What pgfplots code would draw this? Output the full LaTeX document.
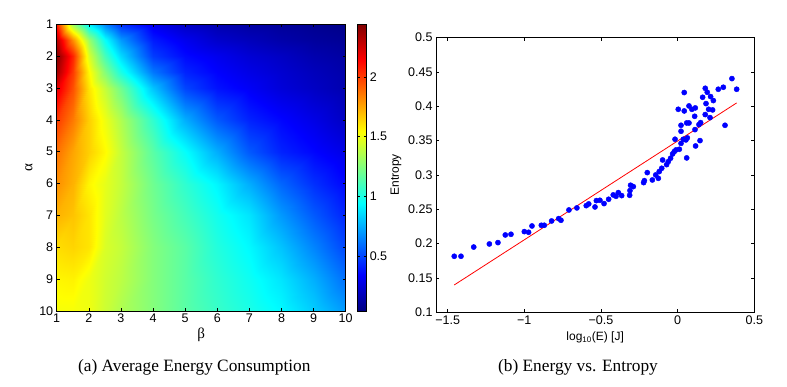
\documentclass[border=0pt]{standalone}
\usepackage{fontspec}
\setmainfont{Liberation Sans}
\newfontfamily\seriffont{Liberation Serif}
\usepackage{pgfplots}
\usepackage{pgfplotstable}
\pgfplotsset{compat=1.18}
\pgfplotsset{/pgf/number format/assume math mode=true}
% heat map: rows alpha, columns beta
\pgfplotstableread{
a b e
1 1 2.05
1 1.5 1.30
1 2 0.90
1 2.5 0.65
1 3 0.45
1 4 0.30
1 5 0.20
1 6 0.15
1 7 0.12
1 8 0.10
1 9 0.08
1 10 0.06

1.5 1 2.30
1.5 1.5 1.80
1.5 2 1.30
1.5 2.5 0.95
1.5 3 0.70
1.5 4 0.40
1.5 5 0.30
1.5 6 0.22
1.5 7 0.18
1.5 8 0.14
1.5 9 0.11
1.5 10 0.09

2 1 2.42
2 1.5 2.05
2 2 1.45
2 2.5 1.10
2 3 0.85
2 4 0.48
2 5 0.36
2 6 0.30
2 7 0.24
2 8 0.20
2 9 0.15
2 10 0.12

2.5 1 2.35
2.5 1.5 2.00
2.5 2 1.55
2.5 2.5 1.25
2.5 3 1.00
2.5 4 0.62
2.5 5 0.42
2.5 6 0.34
2.5 7 0.28
2.5 8 0.23
2.5 9 0.18
2.5 10 0.14

3 1 2.20
3 1.5 1.95
3 2 1.60
3 2.5 1.40
3 3 1.20
3 4 0.80
3 5 0.50
3 6 0.38
3 7 0.32
3 8 0.25
3 9 0.20
3 10 0.15

4 1 2.00
4 1.5 1.85
4 2 1.65
4 2.5 1.50
4 3 1.35
4 4 1.05
4 5 0.75
4 6 0.55
4 7 0.42
4 8 0.35
4 9 0.28
4 10 0.20

5 1 1.87
5 1.5 1.75
5 2 1.65
5 2.5 1.55
5 3 1.40
5 4 1.15
5 5 0.95
5 6 0.75
5 7 0.55
5 8 0.42
5 9 0.35
5 10 0.28

6 1 1.80
6 1.5 1.72
6 2 1.56
6 2.5 1.48
6 3 1.40
6 4 1.20
6 5 1.05
6 6 0.92
6 7 0.75
6 8 0.58
6 9 0.45
6 10 0.35

7 1 1.72
7 1.5 1.68
7 2 1.60
7 2.5 1.47
7 3 1.38
7 4 1.22
7 5 1.10
7 6 0.98
7 7 0.88
7 8 0.70
7 9 0.55
7 10 0.42

8 1 1.62
8 1.5 1.64
8 2 1.60
8 2.5 1.45
8 3 1.40
8 4 1.25
8 5 1.15
8 6 1.02
8 7 0.93
8 8 0.80
8 9 0.65
8 10 0.50

9 1 1.56
9 1.5 1.57
9 2 1.50
9 2.5 1.43
9 3 1.38
9 4 1.25
9 5 1.15
9 6 1.05
9 7 0.97
9 8 0.88
9 9 0.75
9 10 0.60

10 1 1.52
10 1.5 1.52
10 2 1.50
10 2.5 1.42
10 3 1.35
10 4 1.25
10 5 1.15
10 6 1.07
10 7 1.00
10 8 0.93
10 9 0.82
10 10 0.70
}\heat
\pgfplotstableread{
x y
-1.457 0.1816
-1.413 0.1816
-1.330 0.1950
-1.228 0.1995
-1.172 0.2015
-1.124 0.2126
-1.087 0.2136
-1.000 0.2175
-0.972 0.2165
-0.950 0.2257
-0.889 0.2267
-0.870 0.2267
-0.822 0.2330
-0.776 0.2364
-0.761 0.2340
-0.709 0.2490
-0.657 0.2520
-0.596 0.2553
-0.580 0.2578
-0.539 0.2534
-0.530 0.2626
-0.507 0.2631
-0.480 0.2583
-0.450 0.2646
-0.420 0.2709
-0.402 0.2689
-0.387 0.2743
-0.365 0.2699
-0.313 0.2704
-0.311 0.2772
-0.307 0.2850
-0.289 0.2830
-0.222 0.2888
-0.217 0.2917
-0.198 0.3034
-0.165 0.2927
-0.143 0.3000
-0.126 0.2951
-0.120 0.3049
-0.104 0.3097
-0.098 0.3218
-0.072 0.3150
-0.061 0.3194
-0.046 0.3243
-0.033 0.3306
-0.022 0.3340
-0.011 0.3364
0.011 0.3374
-0.017 0.3520
0.022 0.3460
0.037 0.3520
0.054 0.3510
0.063 0.3540
0.059 0.3248
0.022 0.3636
0.022 0.3723
0.059 0.3757
0.074 0.3757
0.004 0.3956
0.043 0.3932
0.043 0.4200
0.074 0.4005
0.093 0.3956
0.115 0.3976
0.111 0.3854
0.113 0.3660
0.117 0.3422
0.139 0.3733
0.150 0.3762
0.146 0.3500
0.163 0.4131
0.180 0.4262
0.185 0.4039
0.180 0.3879
0.193 0.4204
0.202 0.3956
0.211 0.3835
0.215 0.4141
0.228 0.3947
0.233 0.4083
0.265 0.4248
0.298 0.4277
0.309 0.3723
0.354 0.4403
0.385 0.4248
}\scatterdata
\begin{document}
\begin{tikzpicture}
\useasboundingbox (0,0) rectangle (787pt,387pt);
\begin{axis}[
  at={(56.7pt,76pt)}, anchor=south west,
  width=289pt, height=286.7pt, scale only axis,
  xmin=1, xmax=10, ymin=1, ymax=10,
  y dir=reverse,
  xtick={1,2,3,4,5,6,7,8,9,10}, ytick={1,2,3,4,5,6,7,8,9,10},
  tick align=inside, tick pos=both, major tick length=3pt,
  axis line style={line width=0.6pt},
  tick style={black, line width=0.5pt},
  tick label style={font=\fontsize{12.5}{13}\selectfont},
  xticklabel style={yshift=1pt},
  xlabel={\seriffont\fontsize{15}{15}\selectfont β},
  ylabel={\seriffont\fontsize{15}{15}\selectfont α},
  xlabel style={yshift=1pt},
  colormap/jet,
  point meta min=0.04, point meta max=2.44,
  colorbar,
  colorbar style={
    width=8.7pt,
    at={(parent axis.north east)}, anchor=north west, xshift=3.3pt,
    ytick={0.5,1,1.5,2},
    yticklabels={0.5,1,1.5,2},
    tick align=inside, ytick pos=both, yticklabel pos=right,
    major tick length=2.5pt,
    axis line style={line width=0.6pt},
    tick label style={font=\fontsize{12.5}{13}\selectfont},
  },
  axis on top,
]
\addplot[surf, shader=interp, mesh/rows=12, mesh/cols=12, point meta=\thisrow{e}] table[x=b, y=a] {\heat};
\end{axis}

\begin{axis}[
  at={(436pt,74.7pt)}, anchor=south west,
  width=318.3pt, height=274.7pt, scale only axis,
  xmin=-1.576, xmax=0.5, ymin=0.1, ymax=0.5,
  xtick={-1.5,-1,-0.5,0,0.5}, xticklabels={−1.5,−1,−0.5,0,0.5},
  ytick={0.1,0.15,0.2,0.25,0.3,0.35,0.4,0.45,0.5},
  yticklabels={0.1,0.15,0.2,0.25,0.3,0.35,0.4,0.45,0.5},
  tick align=inside, tick pos=both, major tick length=3pt,
  axis line style={line width=0.6pt},
  tick style={black, line width=0.5pt},
  tick label style={font=\fontsize{12.5}{13}\selectfont},
  xlabel={log\textsubscript{10}(E) [J]},
  ylabel={Entropy},
  label style={font=\fontsize{12}{13}\selectfont},
]
\addplot[only marks, mark=*, mark size=2.6pt, color=blue, mark options={fill=blue, draw=blue}] table[x=x, y=y] {\scatterdata};
\addplot[red, line width=0.8pt] coordinates {(-1.457,0.1398) (0.385,0.4049)};
\end{axis}

\node[font=\seriffont\fontsize{17.3}{19}\selectfont, anchor=base] at (194.3pt,15.3pt) {(a) Average Energy Consumption};
\node[font=\seriffont\fontsize{17.3}{19}\selectfont, anchor=base] at (578pt,15.3pt) {(b) Energy vs. Entropy};
\end{tikzpicture}
\end{document}
